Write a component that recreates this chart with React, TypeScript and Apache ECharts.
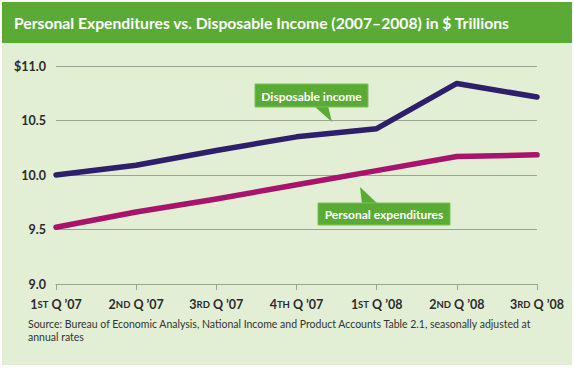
import React, { useEffect, useRef } from "react";
import * as echarts from "echarts";

const categories = [
  ["1", "ST", "Q ’07"],
  ["2", "ND", "Q ’07"],
  ["3", "RD", "Q ’07"],
  ["4", "TH", "Q ’07"],
  ["1", "ST", "Q ’08"],
  ["2", "ND", "Q ’08"],
  ["3", "RD", "Q ’08"],
];
const disposableIncome = [10.0, 10.09, 10.225, 10.35, 10.425, 10.84, 10.715];
const personalExpenditures = [9.52, 9.66, 9.78, 9.91, 10.04, 10.17, 10.185];
const yTicks = ["9.0", "9.5", "10.0", "10.5", "$11.0"];

const GREEN = "#5aab35";
const BG = "#e2efd4";
const FONT = "Lato";

export default function App() {
  const ref = useRef<HTMLDivElement>(null);
  useEffect(() => {
    document.body.style.margin = "0";
    const chart = echarts.init(ref.current!, null, { renderer: "svg" });
    chart.setOption({
      animation: false,
      backgroundColor: "#ffffff",
      textStyle: { fontFamily: FONT },
      grid: { left: 56, right: 37, top: 66, bottom: 84 },
      graphic: [
        { type: "rect", shape: { x: 2, y: 2, width: 570, height: 363 }, style: { fill: BG }, z: -10 },
        { type: "rect", shape: { x: 2, y: 2, width: 570, height: 41 }, style: { fill: GREEN }, z: -9 },
        {
          type: "text",
          x: 14,
          y: 23,
          style: {
            text: "Personal Expenditures vs. Disposable Income (2007–2008) in $ Trillions",
            fill: "#ffffff",
            font: `bold 15.7px ${FONT}`,
            verticalAlign: "middle",
          },
        },
        {
          type: "text",
          x: 28,
          y: 317,
          style: {
            text: "Source: Bureau of Economic Analysis, National Income and Product Accounts Table 2.1, seasonally adjusted at\nannual rates",
            fill: "#333333",
            font: `10.5px ${FONT}`,
            lineHeight: 13.5,
          },
        },
        {
          type: "group",
          z: 100,
          children: [
            { type: "polygon", shape: { points: [[314, 106], [328, 106], [332, 122]] }, style: { fill: GREEN } },
            { type: "rect", shape: { x: 255, y: 84, width: 113, height: 23 }, style: { fill: GREEN, stroke: "#7cc05a", lineWidth: 1 } },
            {
              type: "text",
              x: 311.5,
              y: 96,
              style: { text: "Disposable income", fill: "#fff", font: `bold 12px ${FONT}`, align: "center", verticalAlign: "middle" },
            },
          ],
        },
        {
          type: "group",
          z: 100,
          children: [
            { type: "polygon", shape: { points: [[360, 187], [362, 204], [378, 204]] }, style: { fill: GREEN } },
            { type: "rect", shape: { x: 318, y: 203, width: 132, height: 22 }, style: { fill: GREEN, stroke: "#7cc05a", lineWidth: 1 } },
            {
              type: "text",
              x: 384,
              y: 214.5,
              style: { text: "Personal expenditures", fill: "#fff", font: `bold 12px ${FONT}`, align: "center", verticalAlign: "middle" },
            },
          ],
        },
      ],
      xAxis: {
        type: "category",
        boundaryGap: false,
        data: categories.map((c) => c.join("|")),
        axisLine: { lineStyle: { color: "#9aa394", width: 1.2 } },
        axisTick: { show: true, length: 6, lineStyle: { color: "#9aa394" } },
        axisLabel: {
          margin: 14,
          interval: 0,
          formatter: (v: string) => {
            const [n, s, q] = v.split("|");
            return `{n|${n}}{s|${s}}{n| ${q}}`;
          },
          rich: {
            n: { fontFamily: FONT, fontWeight: "bold", fontSize: 12.5, color: "#2b2b2b" },
            s: { fontFamily: FONT, fontWeight: "bold", fontSize: 9.5, color: "#2b2b2b" },
          },
        },
      },
      yAxis: {
        type: "value",
        min: 9,
        max: 11,
        interval: 0.5,
        axisLine: { show: false },
        axisTick: { show: false },
        splitLine: { lineStyle: { color: "#9aa394", width: 1.2 } },
        axisLabel: {
          margin: 10,
          color: "#2b2b2b",
          fontFamily: FONT,
          fontWeight: "bold",
          fontSize: 12.5,
          formatter: (v: number) => yTicks[Math.round((v - 9) / 0.5)],
        },
      },
      series: [
        {
          name: "Personal expenditures",
          type: "line",
          data: personalExpenditures,
          symbol: "none",
          lineStyle: { color: "#a8146b", width: 5.5, cap: "round", join: "round" },
          z: 3,
        },
        {
          name: "Disposable income",
          type: "line",
          data: disposableIncome,
          symbol: "none",
          lineStyle: { color: "#2d1f6b", width: 5.5, cap: "round", join: "round" },
          z: 4,
        },
      ],
    });
    return () => chart.dispose();
  }, []);
  return <div ref={ref} style={{ width: 574, height: 368, position: "absolute", left: 0, top: 0 }} />;
}
